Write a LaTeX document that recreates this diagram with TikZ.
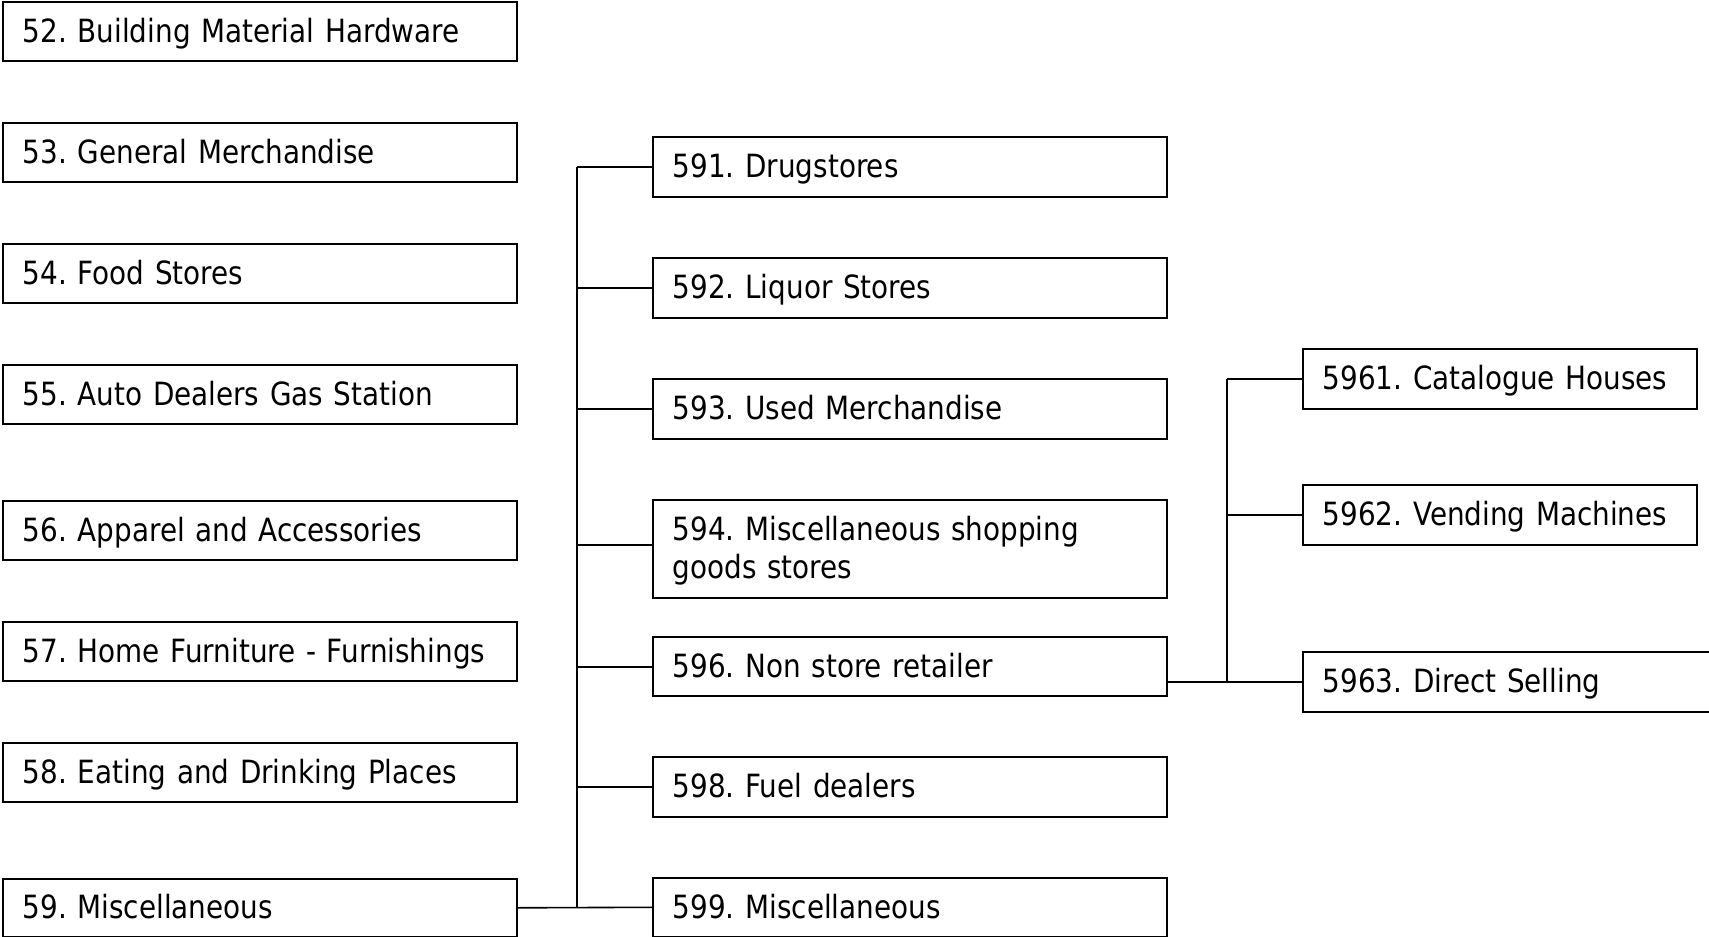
\documentclass[tikz,border=0pt]{standalone}
\usepackage{fontspec}
\setmainfont{DejaVu Sans}[FakeStretch=0.87]
\frenchspacing
\begin{document}
\begin{tikzpicture}[x=1pt,y=-1pt,
  box/.style={draw=black, line width=1.6pt, rectangle, anchor=north west,
    inner xsep=20pt, inner ysep=0pt, align=left, text height=29pt, text depth=7pt,
    font=\fontsize{32}{38}\selectfont\frenchspacing},
  lbox/.style={box, minimum width=514pt, text width=474pt, minimum height=59pt},
  mbox/.style={box, minimum width=514pt, text width=474pt, minimum height=60pt},
  rbox/.style={box, minimum width=394pt, text width=354pt, minimum height=60pt},
  link/.style={draw=black, line width=1.6pt}]
\useasboundingbox (0,0) rectangle (1709,937);
% left column
\node[lbox] (n52) at (2,1) {52. Building Material Hardware};
\node[lbox] (n53) at (2,122) {53. General Merchandise};
\node[lbox] (n54) at (2,243) {54. Food Stores};
\node[lbox] (n55) at (2,364) {55. Auto Dealers Gas Station};
\node[lbox] (n56) at (2,500) {56. Apparel and Accessories};
\node[lbox] (n57) at (2,621) {57. Home Furniture - Furnishings};
\node[lbox] (n58) at (2,742) {58. Eating and Drinking Places};
\node[lbox, minimum height=58pt] (n59) at (2,878) {59. Miscellaneous};
% middle column
\node[mbox] (n591) at (652,136) {591. Drugstores};
\node[mbox] (n592) at (652,257) {592. Liquor Stores};
\node[mbox] (n593) at (652,378) {593. Used Merchandise};
\node[mbox, minimum height=98pt, text depth=45pt] (n594) at (652,499) {594. Miscellaneous shopping\\goods stores};
\node[mbox, minimum height=59pt] (n596) at (652,636) {596. Non store retailer};
\node[mbox] (n598) at (652,756) {598. Fuel dealers};
\node[mbox, minimum height=59pt] (n599) at (652,877) {599. Miscellaneous};
% right column
\node[rbox] (n5961) at (1302,348) {5961. Catalogue Houses};
\node[rbox] (n5962) at (1302,484) {5962. Vending Machines};
\node[rbox, minimum width=500pt, text width=460pt] (n5963) at (1302,651) {5963. Direct Selling};
% bus coordinates
\coordinate (b1) at (577,0);
\coordinate (b2) at (1227,0);
% first tree
\draw[link] (n59.east) -- (n599.west);
\draw[link] (n591.west -| b1) -- (n599.west -| b1);
\foreach \n in {n591,n592,n593,n598} {
  \draw[link] (\n.west) -- (\n.west -| b1);
}
\draw[link] ([yshift=-0.5pt]n596.west) -- ([yshift=-0.5pt]n596.west -| b1);
\draw[link] ([yshift=4pt]n594.west) -- ([yshift=4pt]n594.west -| b1);
% second tree
\draw[link] (n5963.west) -- (n5963.west -| n596.east);
\draw[link] (n5961.west -| b2) -- (n5963.west -| b2);
\draw[link] (n5961.west) -- (n5961.west -| b2);
\draw[link] (n5962.west) -- (n5962.west -| b2);
\end{tikzpicture}
\end{document}
